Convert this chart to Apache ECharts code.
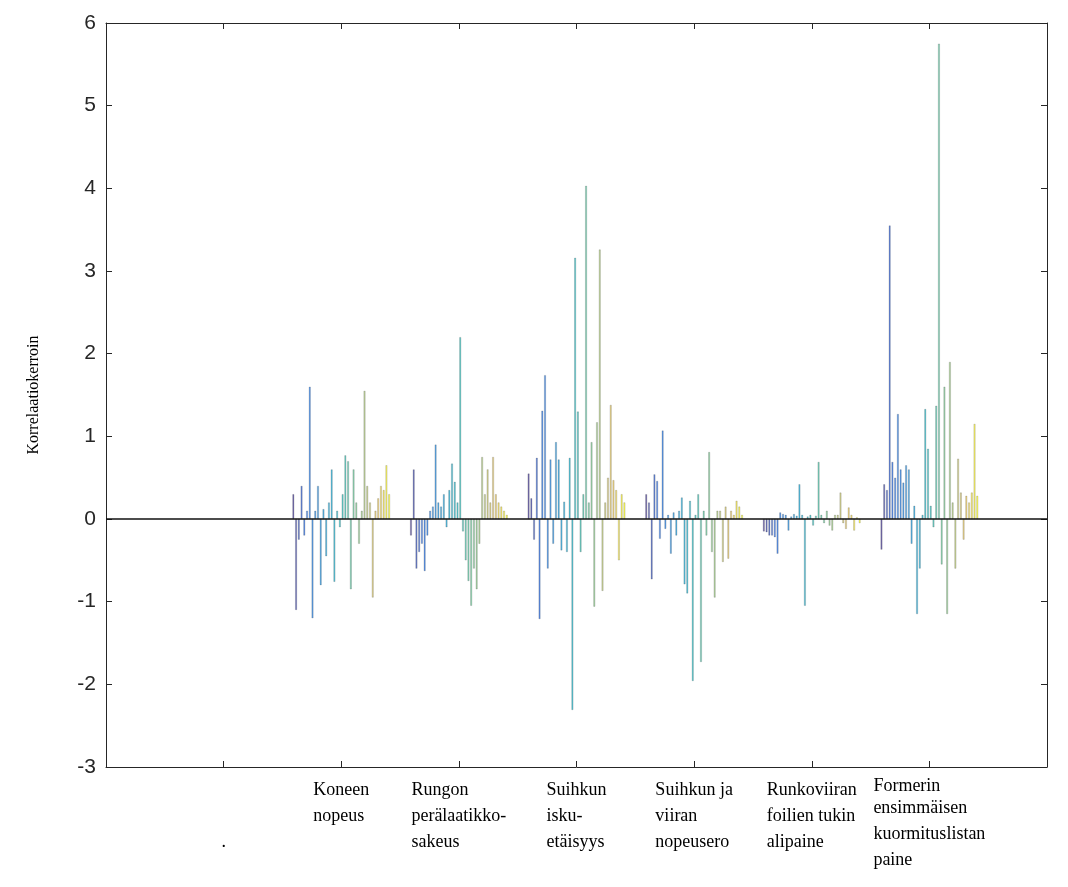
<!DOCTYPE html>
<html><head><meta charset="utf-8">
<script src="https://cdn.jsdelivr.net/npm/echarts@6/dist/echarts.min.js"></script>
<style>html,body{margin:0;padding:0;background:#fff}#c{width:1068px;height:887px}</style>
</head><body><div id="c"></div><script>
// ---- data ----
const categories = ['', '.', 'Koneen\nnopeus', 'Rungon\nperälaatikko-\nsakeus', 'Suihkun\nisku-\netäisyys',
  'Suihkun ja\nviiran\nnopeusero', 'Runkoviiran\nfoilien tukin\nalipaine', 'Formerin\nensimmäisen\nkuormituslistan\npaine', ''];
const yMin = -3, yMax = 6, yStep = 1;
const koneenNopeus = [0.3, -1.1, -0.25, 0.4, -0.2, 0.1, 1.6, -1.2, 0.1, 0.4, -0.8, 0.12, -0.45, 0.2, 0.6, -0.76, 0.1, -0.1,
  0.3, 0.77, 0.7, -0.85, 0.6, 0.2, -0.3, 0.1, 1.55, 0.4, 0.2, -0.95, 0.1, 0.25, 0.4, 0.35, 0.65, 0.3];
const rungonSakeus = [-0.2, 0.6, -0.6, -0.4, -0.3, -0.63, -0.2, 0.1, 0.15, 0.9, 0.2, 0.15, 0.3, -0.1, 0.35, 0.67, 0.45, 0.2,
  2.2, -0.15, -0.5, -0.75, -1.05, -0.6, -0.85, -0.3, 0.75, 0.3, 0.6, 0.2, 0.75, 0.3, 0.2, 0.15, 0.1, 0.05];
const suihkunEtaisyys = [0.55, 0.25, -0.25, 0.74, -1.21, 1.31, 1.74, -0.6, 0.72, -0.3, 0.93, 0.72, -0.38, 0.21, -0.4, 0.74, -2.31, 3.16,
  1.3, -0.4, 0.3, 4.03, 0.2, 0.93, -1.06, 1.17, 3.26, -0.87, 0.2, 0.5, 1.38, 0.47, 0.35, -0.5, 0.3, 0.2];
const nopeusero = [0.3, 0.2, -0.73, 0.54, 0.46, -0.24, 1.07, -0.12, 0.05, -0.42, 0.08, -0.2, 0.1, 0.26, -0.79, -0.9, 0.22, -1.96,
  0.05, 0.3, -1.73, 0.1, -0.2, 0.81, -0.4, -0.95, 0.1, 0.1, -0.52, 0.15, -0.48, 0.1, 0.05, 0.22, 0.15, 0.05];
const alipaine = [-0.15, -0.16, -0.2, -0.2, -0.22, -0.42, 0.08, 0.06, 0.05, -0.14, 0.03, 0.06, 0.04, 0.42, 0.05, -1.05, 0.03, 0.05,
  -0.08, 0.04, 0.69, 0.05, -0.05, 0.1, -0.08, -0.14, 0.05, 0.05, 0.32, -0.05, -0.12, 0.14, 0.05, -0.14, 0.02, -0.05];
const kuormituslistanPaine = [-0.37, 0.42, 0.35, 3.55, 0.69, 0.5, 1.27, 0.6, 0.44, 0.65, 0.6, -0.3, 0.16, -1.15, -0.6, 0.05, 1.33, 0.85,
  0.16, -0.1, 1.37, 5.75, -0.55, 1.6, -1.15, 1.9, 0.2, -0.6, 0.73, 0.32, -0.25, 0.28, 0.2, 0.32, 1.15, 0.28];
const groups = [null, null, koneenNopeus, rungonSakeus, suihkunEtaisyys, nopeusero, alipaine, kuormituslistanPaine, null];

// ---- colours (parula-like) ----
const parulaStops = [[53,42,135],[15,92,221],[18,125,216],[7,156,207],[21,177,180],[89,189,140],[165,190,107],[225,185,82],[249,251,14]];
function parula(t){
  const p = t*(parulaStops.length-1), i = Math.min(Math.floor(p), parulaStops.length-2), f = p-i;
  const a = parulaStops[i], b = parulaStops[i+1];
  return 'rgb(' + a.map((v,k)=>Math.round(v+(b[k]-v)*f)).join(',') + ')';
}

const N = koneenNopeus.length;
const series = [];
for (let i = 0; i < N; i++) {
  const s = {
    type: 'bar', name: 's' + (i+1), silent: true,
    data: groups.map(g => g ? g[i] : null),
    barGap: '50%', barCategoryGap: '17%',
    itemStyle: { color: parula(i/(N-1)), opacity: 0.7, borderColor: 'rgba(70,70,70,0.55)', borderWidth: 0.5 }
  };
  if (i === 0) {
    s.markLine = { silent: true, symbol: 'none', label: { show: false }, animation: false,
      lineStyle: { color: '#111', width: 1.5, type: 'solid' }, data: [{ yAxis: 0 }] };
  }
  series.push(s);
}

const serif = '"Liberation Serif", "DejaVu Serif", serif';
function fmt(value) {
  if (!value) return '';
  if (value === '.') return '{l| }\n{l| }\n{l|.}';
  const lines = value.split('\n');
  const first = lines.length > 3 ? 'f' : 'l';
  return lines.map((ln, j) => '{' + (j === 0 ? first : 'l') + '|' + ln + '}').join('\n');
}

const axisColor = '#262626';
const chart = echarts.init(document.getElementById('c'), null, { renderer: 'canvas' });
chart.setOption({
  animation: false,
  backgroundColor: '#fff',
  grid: { left: 106, right: 21, top: 23, bottom: 120, containLabel: false },
  xAxis: [{
    type: 'category', data: categories, boundaryGap: false, position: 'bottom',
    axisLine: { onZero: false, lineStyle: { color: axisColor, width: 1 } },
    axisTick: { inside: true, length: 6, lineStyle: { color: axisColor } },
    axisLabel: { interval: 0, margin: 10, formatter: fmt,
      rich: {
        l: { align: 'left', fontFamily: serif, fontSize: 18, lineHeight: 26, color: '#000' },
        f: { align: 'left', fontFamily: serif, fontSize: 18, lineHeight: 18, color: '#000' }
      } },
    splitLine: { show: false }
  }, {
    type: 'category', data: categories, boundaryGap: false, position: 'top',
    axisLine: { onZero: false, lineStyle: { color: axisColor, width: 1 } },
    axisTick: { inside: true, length: 6, lineStyle: { color: axisColor } },
    axisLabel: { show: false }, splitLine: { show: false }
  }],
  yAxis: [{
    type: 'value', min: yMin, max: yMax, interval: yStep, position: 'left',
    name: 'Korrelaatiokerroin', nameLocation: 'middle', nameGap: 64, nameRotate: 90,
    nameTextStyle: { fontFamily: serif, fontSize: 16, color: '#000' },
    axisLine: { show: true, onZero: false, lineStyle: { color: axisColor, width: 1 } },
    axisTick: { show: true, inside: true, length: 6, lineStyle: { color: axisColor } },
    axisLabel: { fontFamily: '"Liberation Sans", Arial, sans-serif', fontSize: 21, color: axisColor, margin: 10 },
    splitLine: { show: false }
  }, {
    type: 'value', min: yMin, max: yMax, interval: yStep, position: 'right',
    axisLine: { show: true, onZero: false, lineStyle: { color: axisColor, width: 1 } },
    axisTick: { show: true, inside: true, length: 6, lineStyle: { color: axisColor } },
    axisLabel: { show: false }, splitLine: { show: false }
  }],
  series: series
});
</script></body></html>
